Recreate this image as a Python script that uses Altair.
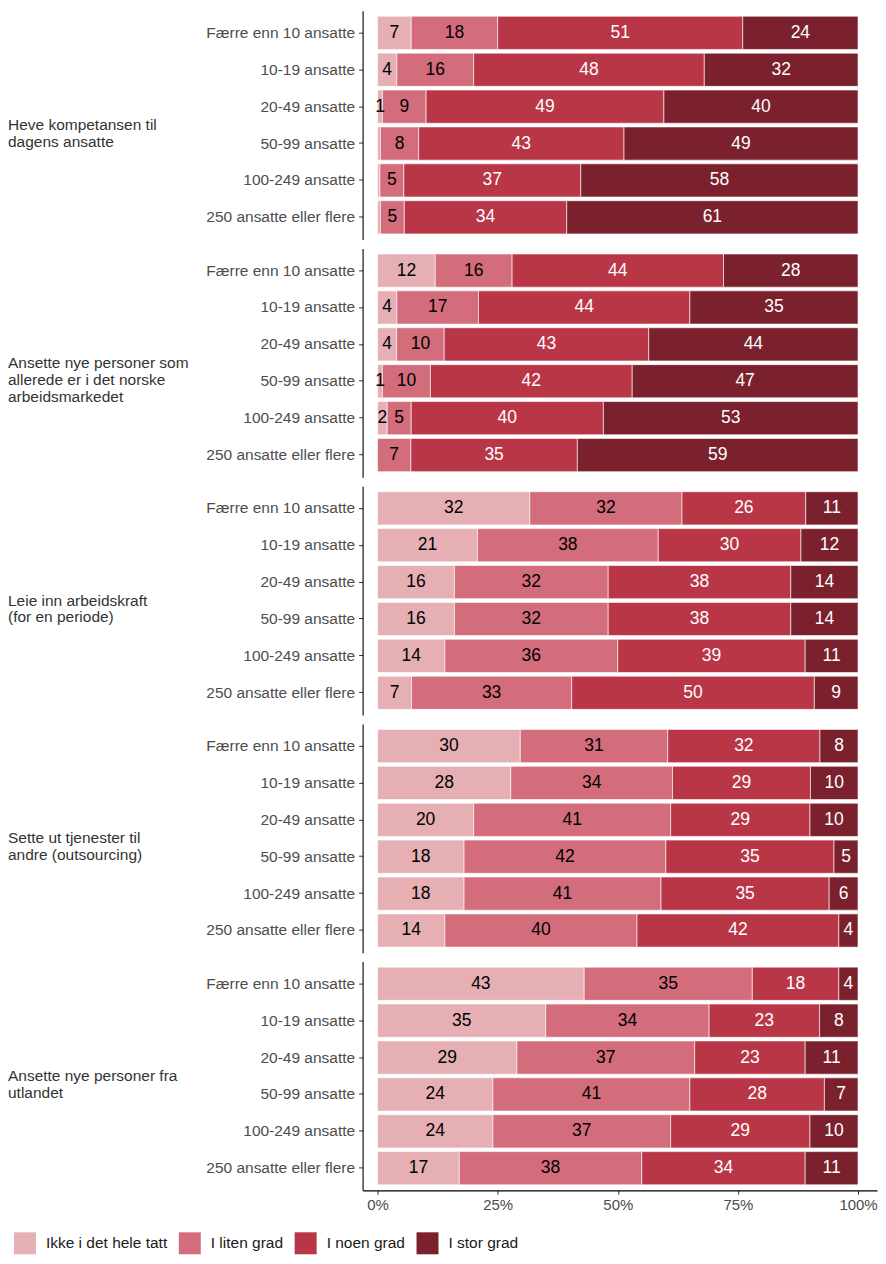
import altair as alt
import pandas as pd

groups = [
    "Heve kompetansen til dagens ansatte",
    "Ansette nye personer som allerede er i det norske arbeidsmarkedet",
    "Leie inn arbeidskraft (for en periode)",
    "Sette ut tjenester til andre (outsourcing)",
    "Ansette nye personer fra utlandet",
]
group_labels = [
    "Heve kompetansen til|dagens ansatte",
    "Ansette nye personer som|allerede er i det norske|arbeidsmarkedet",
    "Leie inn arbeidskraft|(for en periode)",
    "Sette ut tjenester til|andre (outsourcing)",
    "Ansette nye personer fra|utlandet",
]
sizes = [
    "Færre enn 10 ansatte",
    "10-19 ansatte",
    "20-49 ansatte",
    "50-99 ansatte",
    "100-249 ansatte",
    "250 ansatte eller flere",
]
cats = ["Ikke i det hele tatt", "I liten grad", "I noen grad", "I stor grad"]
colors = ["#E5AFB4", "#D36C7B", "#B93647", "#7B212D"]

v_heve = [
    [7, 18, 51, 24],
    [4, 16, 48, 32],
    [1, 9, 49, 40],
    [0.6, 8, 43, 49],
    [0.5, 5, 37, 58],
    [0.6, 5, 34, 61],
]
v_ansette_norske = [
    [12, 16, 44, 28],
    [4, 17, 44, 35],
    [4, 10, 43, 44],
    [1, 10, 42, 47],
    [2, 5, 40, 53],
    [0, 7, 35, 59],
]
v_leie = [
    [32, 32, 26, 11],
    [21, 38, 30, 12],
    [16, 32, 38, 14],
    [16, 32, 38, 14],
    [14, 36, 39, 11],
    [7, 33, 50, 9],
]
v_sette_ut = [
    [30, 31, 32, 8],
    [28, 34, 29, 10],
    [20, 41, 29, 10],
    [18, 42, 35, 5],
    [18, 41, 35, 6],
    [14, 40, 42, 4],
]
v_utlandet = [
    [43, 35, 18, 4],
    [35, 34, 23, 8],
    [29, 37, 23, 11],
    [24, 41, 28, 7],
    [24, 37, 29, 10],
    [17, 38, 34, 11],
]
all_values = [v_heve, v_ansette_norske, v_leie, v_sette_ut, v_utlandet]

rows = []
for g, gl, vals in zip(groups, group_labels, all_values):
    for si, s in enumerate(sizes):
        for ci, c in enumerate(cats):
            rows.append(dict(group=g, glabel=gl, size=s, cat=c, order=ci,
                             value=vals[si][ci]))
df = pd.DataFrame(rows)

FONT = "Liberation Sans"
W, H = 515, 229

xscale = alt.Scale(domain=[-0.0312, 1.0395], nice=False, zero=False)
xaxis = alt.Axis(title=None, format=".0%", values=[0, 0.25, 0.5, 0.75, 1],
                 labelFlush=False, labelFontSize=15, labelPadding=3)
yaxis = alt.Axis(title=None, labelPadding=4)

base = (
    alt.Chart()
    .transform_joinaggregate(total="sum(value)", groupby=["group", "size"])
    .transform_calculate(frac="datum.value / datum.total")
    .transform_stack(stack="frac", as_=["x0", "x1"], groupby=["group", "size"],
                     sort=[alt.SortField("order", order="ascending")])
    .transform_calculate(xm="(datum.x0 + datum.x1) / 2")
)

bars = base.mark_bar(stroke="white", strokeWidth=0.6).encode(
    x=alt.X("x0:Q", scale=xscale, axis=xaxis),
    x2="x1:Q",
    y=alt.Y("size:N", sort=sizes,
            scale=alt.Scale(paddingInner=0.1, paddingOuter=0.15), axis=yaxis),
    color=alt.Color(
        "cat:N", sort=cats,
        scale=alt.Scale(domain=cats, range=colors),
        legend=alt.Legend(
            title=None, orient="none", legendX=-349, legendY=1223,
            direction="horizontal", symbolType="square", symbolSize=484,
            symbolStrokeWidth=0, symbolOpacity=1, labelFontSize=15.5,
            labelColor="#1A1A1A", columnPadding=11, labelOffset=10,
        ),
    ),
)

labels = base.transform_filter("datum.value >= 1").mark_text(
    fontSize=17.5, baseline="middle", align="center", font=FONT
).encode(
    x=alt.X("xm:Q"),
    y=alt.Y("size:N", sort=sizes),
    text=alt.Text("value:Q", format="d"),
    color=alt.condition(alt.datum.order >= 2, alt.value("white"), alt.value("black")),
)

glab = alt.Chart().transform_filter(
    "datum.size == 'Færre enn 10 ansatte' && datum.order == 0"
).transform_calculate(
    gl="split(datum.glabel, '|')"
).mark_text(
    align="left", baseline="middle", fontSize=15.5,
    lineHeight=17, color="#333333", font=FONT
).encode(
    x=alt.value(-355),
    y=alt.value(H / 2),
    text="gl:N",
)

chart = (
    alt.layer(bars, labels, glab, data=df)
    .properties(width=W, height=H)
    .facet(row=alt.Row("group:N", sort=groups, title=None,
                       header=alt.Header(labels=False)),
           spacing=9, bounds="flush")
    .properties(padding={"left": 0, "top": 2, "right": 0, "bottom": 0})
    .configure(font=FONT)
    .configure_view(strokeWidth=0)
    .configure_axis(grid=False, domainColor="black", domainWidth=1.1,
                    tickColor="#333333", tickSize=4, labelColor="#4D4D4D",
                    labelFontSize=15.5, labelFont=FONT)
)

chart.save("out.html", embed_options={"renderer": "svg", "actions": False})
